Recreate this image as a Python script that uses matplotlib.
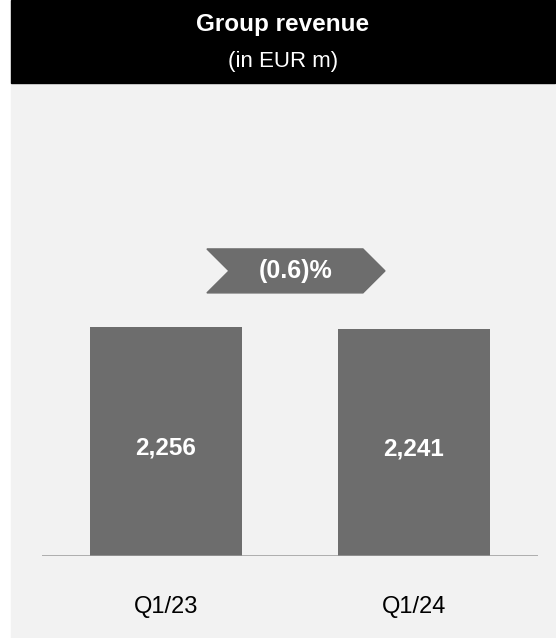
import matplotlib.pyplot as plt
from matplotlib.patches import Rectangle, Polygon

plt.rcParams['font.family'] = ['Liberation Sans', 'DejaVu Sans']

quarters = ['Q1/23', 'Q1/24']
revenue = [2256, 2241]
value_labels = ['2,256', '2,241']
change_label = '(0.6)%'

W, H = 556, 638
fig = plt.figure(figsize=(W / 100, H / 100), dpi=100)
fig.patch.set_facecolor('white')

# panel background and black header
fig.add_artist(Rectangle((11 / W, 0), 1 - 11 / W, (H - 83) / H,
                         transform=fig.transFigure, color='#f2f2f2', zorder=0))
fig.add_artist(Rectangle((11 / W, (H - 83) / H), (555 - 11) / W, 83 / H,
                         transform=fig.transFigure, color='black', zorder=0))
fig.text(0.5 + 5 / W, 1 - 25 / H, 'Group revenue', color='white', fontsize=17.5,
         fontweight='bold', ha='center', va='center')
fig.text(0.5 + 5 / W, 1 - 61 / H, '(in EUR m)', color='white', fontsize=16,
         ha='center', va='center')

ax = fig.add_axes([42 / W, (H - 556) / H, (538 - 42) / W, (556 - 83) / H])
ax.set_facecolor('none')

x = range(len(quarters))
ax.bar(x, revenue, width=0.613, color='#6d6d6d', zorder=2)
ax.axhline(0, color='#999999', lw=1.8, zorder=3)

for i, (v, lab) in enumerate(zip(revenue, value_labels)):
    ax.text(i, v * 0.47, lab, color='white', fontsize=17.5, fontweight='bold',
            ha='center', va='center', zorder=4)

# change arrow between the bars
top = max(revenue)
y_mid = top * 1.245
half = top * 0.096
xl, xr = 0.165, 0.883
d = 0.089
arrow = Polygon([(xl, y_mid + half), (xr - d, y_mid + half), (xr, y_mid),
                 (xr - d, y_mid - half), (xl, y_mid - half), (xl + d, y_mid)],
                closed=True, color='#6d6d6d', zorder=2)
ax.add_patch(arrow)
ax.text((xl + xr) / 2, y_mid, change_label, color='white', fontsize=18,
        fontweight='bold', ha='center', va='center', zorder=4)

ax.set_xlim(-0.5, 1.5)
ax.set_ylim(0, 4660)
ax.set_xticks(list(x))
ax.set_xticklabels(quarters, fontsize=17)
ax.tick_params(axis='x', length=0, pad=29)
ax.set_yticks([])
for s in ax.spines.values():
    s.set_visible(False)

fig.savefig('out.png', dpi=100)
